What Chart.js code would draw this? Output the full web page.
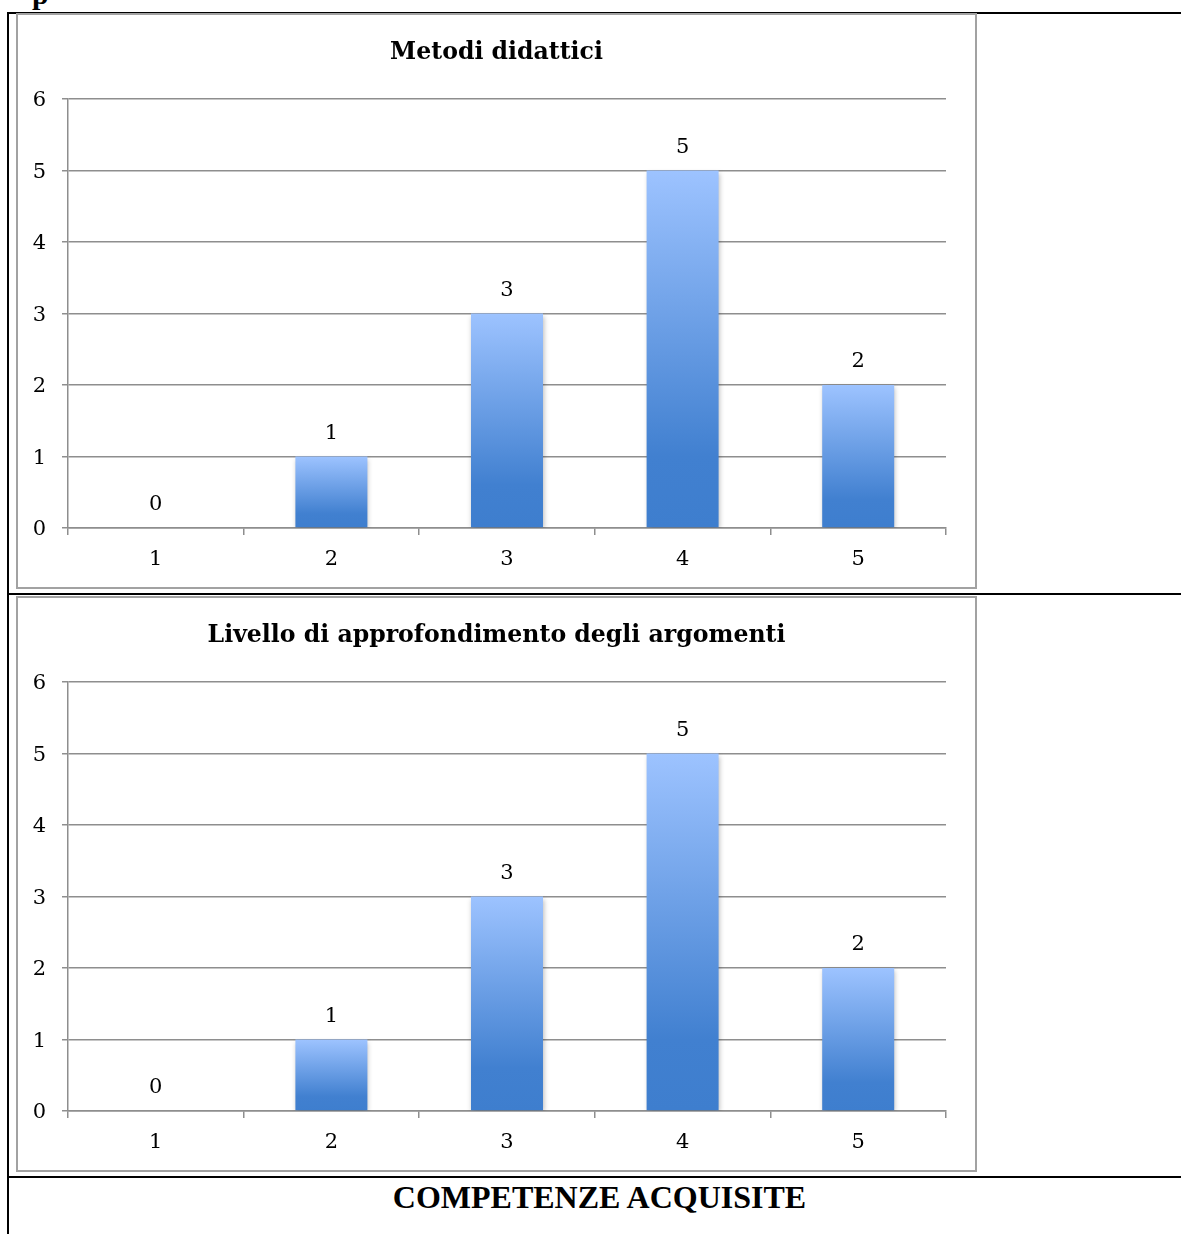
<!DOCTYPE html>
<html>
<head>
<meta charset="utf-8">
<script src="https://cdn.jsdelivr.net/npm/chart.js@4/dist/chart.umd.min.js"></script>
<style>
  body { margin: 0; background: #fff; }
  #page { position: relative; width: 1181px; height: 1234px; overflow: hidden; background: #fff; }
  .rule { position: absolute; background: #000; }
  .frame { position: absolute; left: 16px; width: 961px; height: 576px; box-sizing: border-box;
           border: 2px solid #a2a2a2; background: #fff; }
  .frame canvas { display: block; }
  #heading { position: absolute; left: 0; width: 1199px; top: 1181px; text-align: center;
             font: bold 32px "Liberation Serif", "Times New Roman", serif; line-height: 32px; color: #000; }
  #cut { position: absolute; left: 32px; top: -21px; font: bold 30px "Liberation Serif", serif; line-height: 30px; }
</style>
</head>
<body>
<div id="page">
  <div id="cut">p</div>
  <div class="rule" style="left:7px; top:12px; width:1174px; height:2px;"></div>
  <div class="rule" style="left:7px; top:12px; width:2px; height:1222px;"></div>
  <div class="frame" style="top:13px;"><canvas id="chart1" width="957" height="572"></canvas></div>
  <div class="rule" style="left:7px; top:593px; width:1174px; height:2px;"></div>
  <div class="frame" style="top:596px;"><canvas id="chart2" width="957" height="572"></canvas></div>
  <div class="rule" style="left:7px; top:1176px; width:1174px; height:2px;"></div>
  <div id="heading">COMPETENZE ACQUISITE</div>
</div>
<script>
// data
const categories = ['1', '2', '3', '4', '5'];
const metodiValues = [0, 1, 3, 5, 2];
const approfondimentoValues = [0, 1, 3, 5, 2];
const yMin = 0, yMax = 6, yStep = 1;

const chartFont = '"DejaVu Serif", "Liberation Serif", serif';
const gridColor = '#8e8e8e';

function barGradient(ctx) {
    const chart = ctx.chart;
    if (!chart.chartArea) return '#6a9be0';
    const y = chart.scales.y;
    const top = y.getPixelForValue(ctx.raw);
    const base = y.getPixelForValue(0);
    if (Math.abs(base - top) < 1) return '#3f7fcf';
    const g = chart.ctx.createLinearGradient(0, top, 0, base);
    g.addColorStop(0, '#9dc3ff');
    g.addColorStop(0.8, '#4180d0');
    g.addColorStop(1, '#3e7ece');
    return g;
}

// soft shadow behind bars, like the office chart
const barShadow = {
    id: 'barShadow',
    beforeDatasetsDraw(chart) {
        const c = chart.ctx;
        c.save();
        c.shadowColor = 'rgba(0,0,0,0.28)';
        c.shadowBlur = 5;
        c.shadowOffsetX = 1;
        c.shadowOffsetY = 2;
    },
    afterDatasetsDraw(chart) {
        chart.ctx.restore();
    }
};

// title centred on the whole frame, plus the value written above each bar
const textMarks = {
    id: 'textMarks',
    afterDraw(chart, args, opts) {
        const c = chart.ctx;
        c.save();
        c.fillStyle = '#000';
        c.textAlign = 'center';
        c.textBaseline = 'middle';
        c.font = 'bold 23.6px ' + chartFont;
        c.fillText(opts.title, chart.width / 2, 38);
        c.font = '21px ' + chartFont;
        chart.data.datasets.forEach((ds, i) => {
            chart.getDatasetMeta(i).data.forEach((bar, j) => {
                c.fillText(String(ds.data[j]), bar.x, bar.y - 23);
            });
        });
        c.restore();
    }
};

function makeChart(id, title, values) {
    return new Chart(document.getElementById(id), {
        type: 'bar',
        data: {
            labels: categories,
            datasets: [{
                data: values,
                backgroundColor: barGradient,
                borderWidth: 0,
                categoryPercentage: 1,
                barPercentage: 0.41
            }]
        },
        options: {
            responsive: false,
            animation: false,
            events: [],
            layout: { padding: { left: 0, right: 29, top: 84, bottom: 0 } },
            plugins: {
                legend: { display: false },
                tooltip: { enabled: false },
                title: { display: false },
                textMarks: { title: title }
            },
            scales: {
                x: {
                    grid: { offset: true, drawOnChartArea: false, drawTicks: true, tickLength: 7,
                            color: gridColor, lineWidth: 1.5 },
                    border: { display: true, color: gridColor, width: 1.5 },
                    ticks: { color: '#000', font: { family: chartFont, size: 21 }, padding: 12 },
                    afterFit(scale) { scale.height = 59; }
                },
                y: {
                    min: yMin,
                    max: yMax,
                    ticks: { stepSize: yStep, color: '#000', font: { family: chartFont, size: 21 },
                             padding: 16, labelOffset: 2 },
                    grid: { color: gridColor, lineWidth: 1.5, tickLength: 6, drawTicks: true },
                    border: { display: true, color: gridColor, width: 1.5 },
                    afterFit(scale) { scale.width = 50; }
                }
            }
        },
        plugins: [barShadow, textMarks]
    });
}

makeChart('chart1', 'Metodi didattici', metodiValues);
makeChart('chart2', 'Livello di approfondimento degli argomenti', approfondimentoValues);
</script>
</body>
</html>
